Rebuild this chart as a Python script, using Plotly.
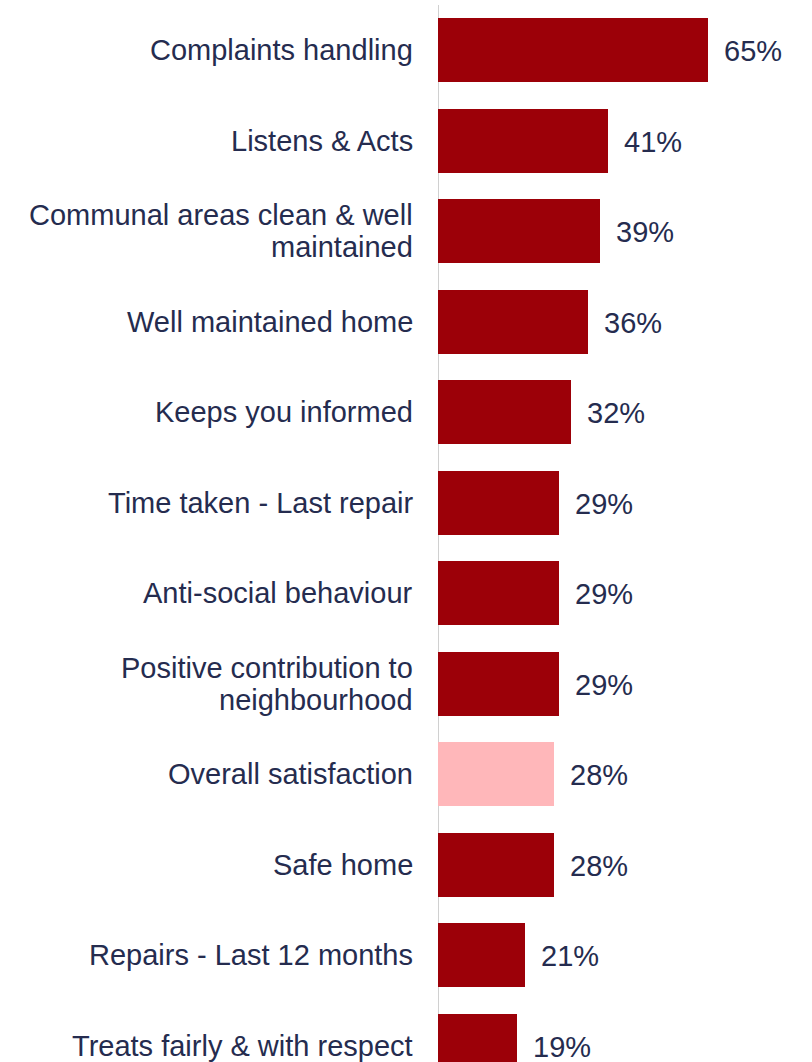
import plotly.graph_objects as go

# Survey measures (top to bottom) and the share for each
categories = [
    "Complaints handling",
    "Listens & Acts",
    "Communal areas clean & well<br>maintained",
    "Well maintained home",
    "Keeps you informed",
    "Time taken - Last repair",
    "Anti-social behaviour",
    "Positive contribution to<br>neighbourhood",
    "Overall satisfaction",
    "Safe home",
    "Repairs - Last 12 months",
    "Treats fairly & with respect",
]
values = [65, 41, 39, 36, 32, 29, 29, 29, 28, 28, 21, 19]
highlight = "Overall satisfaction"

DARK_RED = "#9C0008"
PINK = "#FFB7BA"
TEXT = "#252C4F"
FONT = "Liberation Sans, Arial, sans-serif"
FS = 29

positions = list(range(len(categories)))
colors = [PINK if c == highlight else DARK_RED for c in categories]

fig = go.Figure(
    go.Bar(
        x=values,
        y=positions,
        orientation="h",
        width=0.71,
        marker=dict(color=colors, line=dict(width=0)),
        hoverinfo="skip",
    )
)

annotations = []
for pos, cat, val in zip(positions, categories, values):
    # category label, right aligned against the axis line
    lines = cat.split("<br>")
    if len(lines) == 1:
        shifts = [0]
    else:
        shifts = [16, -16]
    for line, ys in zip(lines, shifts):
        annotations.append(dict(
            x=0, y=pos, xref="x", yref="y", text=line, showarrow=False,
            xanchor="right", yanchor="middle", xshift=-23, yshift=ys,
            font=dict(family=FONT, size=FS, color=TEXT),
        ))
    # value label just beyond the bar end
    annotations.append(dict(
        x=val, y=pos, xref="x", yref="y", text=f"{val}%", showarrow=False,
        xanchor="left", yanchor="middle", xshift=14, yshift=-1,
        font=dict(family=FONT, size=FS, color=TEXT),
    ))

fig.update_layout(
    width=812,
    height=1062,
    margin=dict(l=438, r=0, t=5, b=0),
    paper_bgcolor="white",
    plot_bgcolor="white",
    showlegend=False,
    bargap=0,
    annotations=annotations,
    xaxis=dict(range=[0, 90], visible=False, fixedrange=True),
    yaxis=dict(
        range=[11.18, -0.5],
        showticklabels=False,
        showgrid=False,
        zeroline=False,
        showline=False,
        ticks="",
        fixedrange=True,
    ),
    shapes=[dict(
        type="line", xref="x", yref="paper", x0=0, x1=0, y0=0, y1=1,
        line=dict(color="#D0D0D0", width=2), layer="below",
    )],
)

fig.write_html("out.html", config={"displayModeBar": False})
